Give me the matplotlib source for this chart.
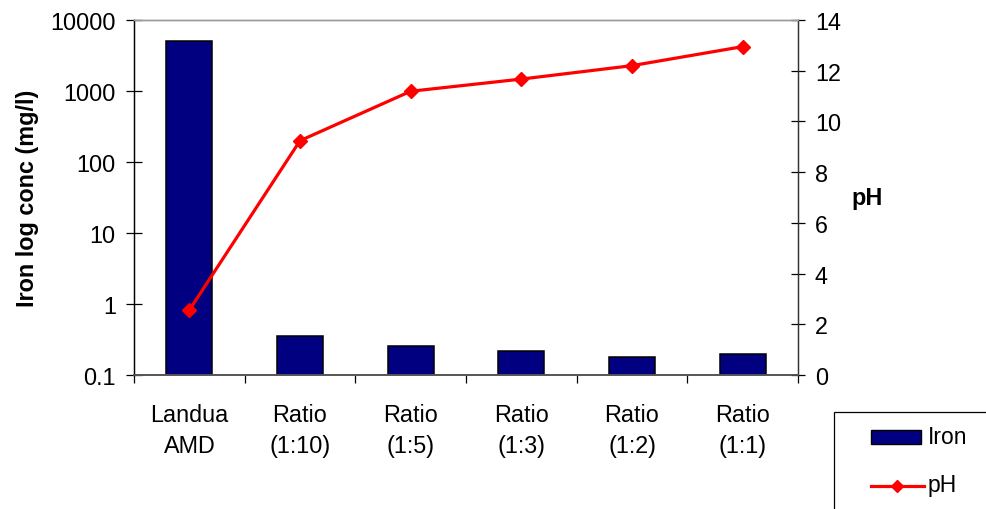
import numpy as np
import matplotlib
matplotlib.use("Agg")
import matplotlib.pyplot as plt
from matplotlib.patches import Rectangle
from matplotlib.lines import Line2D
from matplotlib.ticker import FixedLocator, FuncFormatter, NullLocator

plt.rcParams['font.family'] = ['Liberation Sans', 'DejaVu Sans']

# Data
categories = ["Landua\nAMD", "Ratio\n(1:10)", "Ratio\n(1:5)", "Ratio\n(1:3)", "Ratio\n(1:2)", "Ratio\n(1:1)"]
iron_mg_l = [5100, 0.36, 0.26, 0.22, 0.18, 0.20]
ph_values = [2.56, 9.24, 11.19, 11.67, 12.20, 12.95]
iron_ticks = [0.1, 1, 10, 100, 1000, 10000]
ph_ticks = [0, 2, 4, 6, 8, 10, 12, 14]

FS = 16.8
W, H = 986, 510

fig = plt.figure(figsize=(W / 100, H / 100), dpi=100)
ax = fig.add_axes([134 / W, 1 - 376 / H, (798 - 134) / W, (376 - 21) / H])
ax2 = ax.twinx()

x = np.arange(len(categories))

# Iron bars on log axis
ax.bar(x, iron_mg_l, width=0.415, color="#000080", edgecolor="black", linewidth=1.1, zorder=2)
ax.set_yscale("log")
ax.set_ylim(0.1, 10000)
ax.set_xlim(-0.5, len(categories) - 0.5)
ax.yaxis.set_major_locator(FixedLocator(iron_ticks))
ax.yaxis.set_major_formatter(FuncFormatter(lambda v, p: f"{v:g}"))
ax.yaxis.set_minor_locator(NullLocator())
ax.tick_params(axis="y", direction="inout", length=11, width=0.9, pad=7.6, labelsize=FS)
ax.set_ylabel("Iron log conc (mg/l)", fontsize=FS, fontweight="bold", labelpad=8)

# Category labels at centres, tick marks at boundaries
ax.set_xticks(x)
ax.set_xticklabels(categories, fontsize=FS, linespacing=1.48)
ax.tick_params(axis="x", which="major", length=0, pad=20)
ax.xaxis.set_minor_locator(FixedLocator(np.arange(len(categories) + 1) - 0.5))
ax.tick_params(axis="x", which="minor", direction="out", length=6, width=0.9)

# pH line on secondary axis
ax2.plot(x, ph_values, color="#FF0000", linewidth=2.3, marker="D", markersize=7,
         markerfacecolor="#FF0000", markeredgecolor="#FF0000", zorder=3)
ax2.set_ylim(0, 14)
ax2.yaxis.set_major_locator(FixedLocator(ph_ticks))
ax2.tick_params(axis="y", direction="inout", length=10, width=0.9, pad=7.2, labelsize=FS)
ax2.set_ylabel("pH", fontsize=FS, fontweight="bold", rotation=0, ha="center", va="center")
ax2.yaxis.set_label_coords((867 - 134) / (798 - 134), 0.5)

# Spines
for a in (ax, ax2):
    a.spines["top"].set_color("#9a9a9a")
    a.spines["top"].set_linewidth(1.0)
    a.spines["bottom"].set_color("#555555")
    a.spines["bottom"].set_linewidth(1.2)
    a.spines["left"].set_color("black")
    a.spines["right"].set_color("#333333")
    a.spines["left"].set_linewidth(0.9)
    a.spines["right"].set_linewidth(0.9)

# Legend box
def fx(px):
    return px / W

def fy(py):
    return 1 - py / H

fig.patches.append(Rectangle((fx(834), fy(530)), fx(200), fy(413) - fy(530), fill=False,
                             edgecolor="black", linewidth=0.9, transform=fig.transFigure,
                             clip_on=False))
fig.patches.append(Rectangle((fx(871), fy(445)), fx(921) - fx(871), fy(431) - fy(445),
                             facecolor="#000080", edgecolor="black", linewidth=1.0,
                             transform=fig.transFigure))
fig.lines.append(Line2D([fx(871), fx(924)], [fy(487), fy(487)], color="#FF0000", linewidth=2.3,
                        transform=fig.transFigure))
fig.lines.append(Line2D([fx(897)], [fy(487)], color="#FF0000", marker="D", markersize=6.5,
                        transform=fig.transFigure))
fig.text(fx(928), fy(444), "Iron", fontsize=16.5, va="baseline", ha="left")
fig.text(fx(928), fy(492), "pH", fontsize=16.5, va="baseline", ha="left")

fig.savefig("out.png", dpi=100)
